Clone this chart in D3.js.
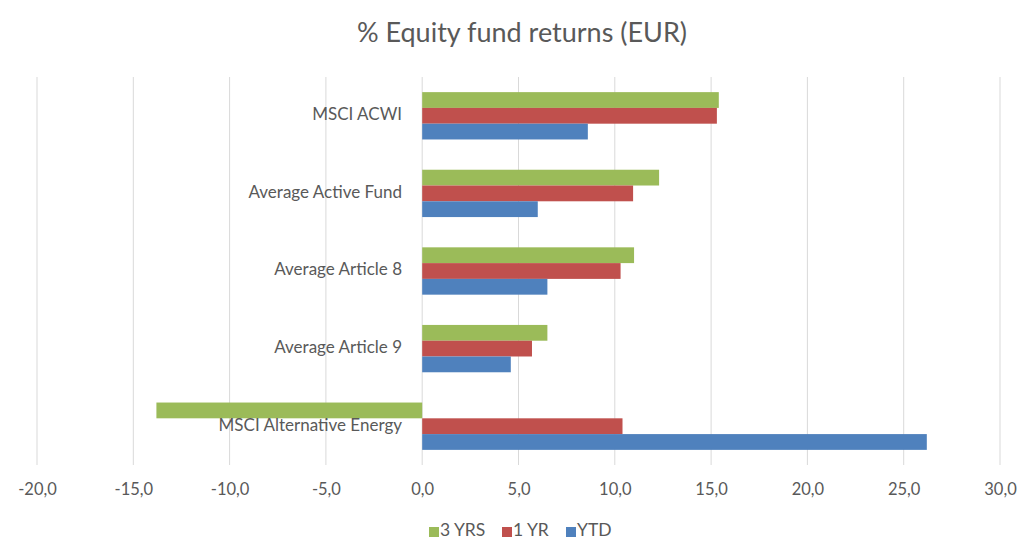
<!DOCTYPE html>
<html><head><meta charset="utf-8">
<script src="https://cdn.jsdelivr.net/npm/d3@7"></script>
<style>body{margin:0;background:#fff;}text{font-family:Lato,"Open Sans",sans-serif;fill:#595959;}</style>
</head><body>
<svg id="c" width="1030" height="554"></svg>
<script>
const categories = ["MSCI ACWI","Average Active Fund","Average Article 8","Average Article 9","MSCI Alternative Energy"];
const seriesNames = ["3 YRS","1 YR","YTD"];
const threeYrs = [15.4, 12.3, 11.0, 6.5, -13.8];
const oneYr = [15.3, 10.95, 10.3, 5.7, 10.4];
const ytd = [8.6, 6.0, 6.5, 4.6, 26.2];
const tickValues = [-20,-15,-10,-5,0,5,10,15,20,25,30];
const colors = ["#9BBB59","#C0504D","#4F81BD"];
const title = "% Equity fund returns (EUR)";

(function(){
const seriesVals = [threeYrs, oneYr, ytd];
const svg = d3.select("#c");
const mLeft = 37, mRight = 1000, mTop = 77, mBottom = 465;
const x = d3.scaleLinear().domain([-20,30]).range([mLeft,mRight]);
const y = d3.scaleBand().domain(categories).range([mTop,mBottom]).paddingInner(0.39).paddingOuter(0.195);
const ys = d3.scaleBand().domain(seriesNames).range([0,y.bandwidth()]);

svg.append("text").attr("x",522).attr("y",42).attr("text-anchor","middle").style("font-size","27px").text(title);

svg.append("g").selectAll("line").data(tickValues).join("line")
  .attr("x1",d=>x(d)).attr("x2",d=>x(d)).attr("y1",mTop).attr("y2",mBottom)
  .attr("stroke","#d9d9d9").attr("stroke-width",1);

const ax = svg.append("g").attr("transform",`translate(0,${mBottom})`)
  .call(d3.axisBottom(x).tickValues(tickValues).tickSize(0).tickPadding(18).tickFormat(d=>d3.format(".1f")(d).replace(".",",").replace("−","-")));
ax.select(".domain").remove();
ax.selectAll("text").style("font-size","16.5px").attr("fill","#595959").style("font-family","Lato,'Open Sans',sans-serif");

const g = svg.append("g");
seriesNames.forEach((s,i)=>{
  g.append("g").selectAll("rect").data(categories).join("rect")
    .attr("x",(c,j)=>x(Math.min(0,seriesVals[i][j])))
    .attr("width",(c,j)=>Math.abs(x(seriesVals[i][j])-x(0)))
    .attr("y",c=>y(c)+ys(s))
    .attr("height",ys.bandwidth())
    .attr("fill",colors[i]);
});

svg.append("g").selectAll("text").data(categories).join("text")
  .attr("x",402).attr("y",c=>y(c)+y.bandwidth()/2)
  .attr("text-anchor","end").attr("dominant-baseline","middle")
  .style("font-size","17px").text(d=>d);

const leg = svg.append("g").attr("transform","translate(429,532)");
const legX = [0,73,137];
seriesNames.forEach((s,i)=>{
  leg.append("rect").attr("x",legX[i]).attr("y",-5).attr("width",10).attr("height",10).attr("fill",colors[i]);
  leg.append("text").attr("x",legX[i]+11).attr("y",0).attr("dominant-baseline","middle").style("font-size","17.5px").text(s);
});
})();
</script>
</body></html>
